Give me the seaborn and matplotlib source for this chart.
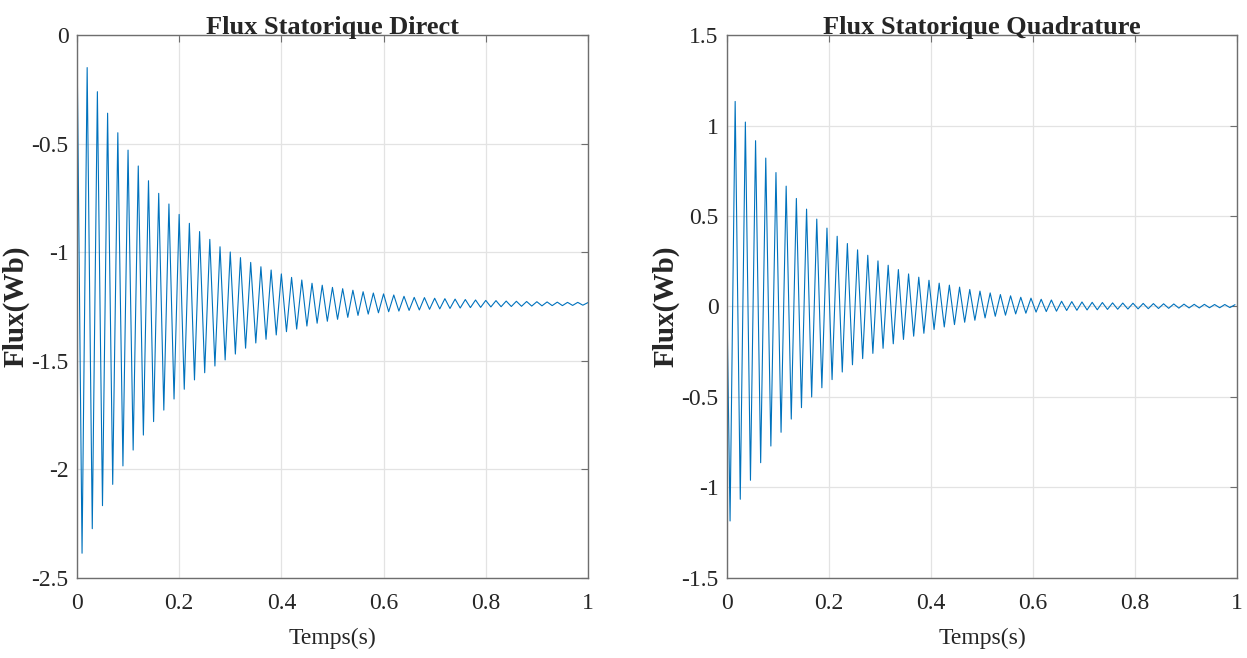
import numpy as np
import pandas as pd
import matplotlib
matplotlib.use("Agg")
import matplotlib.pyplot as plt
import seaborn as sns

# Pics (une valeur par demi-période de 0.01 s)
# Flux direct : minima à t = 0.01, 0.03, ... ; maxima à t = 0.02, 0.04, ...
d_t0 = 0.01
d_min = [-2.386, -2.273, -2.167, -2.069, -1.984, -1.911, -1.842, -1.780, -1.727, -1.676,
         -1.631, -1.588, -1.555, -1.524, -1.496, -1.469, -1.442, -1.418, -1.401, -1.381,
         -1.366, -1.354, -1.340, -1.327, -1.318, -1.309, -1.300, -1.291, -1.285, -1.279,
         -1.274, -1.271, -1.268, -1.266, -1.263, -1.261, -1.259, -1.257, -1.255, -1.254,
         -1.252, -1.251, -1.250, -1.249, -1.248, -1.247, -1.246, -1.246, -1.245, -1.244]
d_max = [-0.150, -0.261, -0.360, -0.450, -0.530, -0.603, -0.671, -0.729, -0.778, -0.826,
         -0.867, -0.905, -0.941, -0.975, -0.999, -1.025, -1.047, -1.067, -1.082, -1.100,
         -1.116, -1.128, -1.143, -1.152, -1.162, -1.168, -1.175, -1.182, -1.188, -1.192,
         -1.197, -1.203, -1.208, -1.209, -1.212, -1.214, -1.216, -1.218, -1.220, -1.222,
         -1.223, -1.225, -1.226, -1.227, -1.228, -1.229, -1.230, -1.231, -1.231, -1.232]

# Flux quadrature : minima à t = 0.006, 0.026, ... ; maxima à t = 0.016, 0.036, ...
q_t0 = 0.006
q_min = [-1.185, -1.065, -0.960, -0.863, -0.771, -0.695, -0.622, -0.559, -0.500, -0.449,
         -0.404, -0.362, -0.322, -0.288, -0.259, -0.231, -0.206, -0.182, -0.164, -0.148,
         -0.127, -0.113, -0.100, -0.087, -0.076, -0.063, -0.054, -0.048, -0.041, -0.037,
         -0.031, -0.028, -0.026, -0.022, -0.021, -0.019, -0.018, -0.016, -0.015, -0.014,
         -0.013, -0.012, -0.011, -0.010, -0.009, -0.008, -0.008, -0.007, -0.007, -0.006]
q_max = [1.133, 1.019, 0.916, 0.820, 0.740, 0.665, 0.597, 0.538, 0.483, 0.433,
         0.388, 0.348, 0.313, 0.283, 0.252, 0.228, 0.204, 0.180, 0.162, 0.145,
         0.129, 0.118, 0.107, 0.094, 0.085, 0.075, 0.066, 0.059, 0.051, 0.046,
         0.040, 0.036, 0.029, 0.027, 0.025, 0.023, 0.022, 0.020, 0.019, 0.018,
         0.017, 0.016, 0.015, 0.014, 0.013, 0.012, 0.012, 0.011, 0.011, 0.010]

half_period = 0.01
x_ticks = [0, 0.2, 0.4, 0.6, 0.8, 1]
x_ticklabels = ["0", "0.2", "0.4", "0.6", "0.8", "1"]
d_yticks = [0, -0.5, -1, -1.5, -2, -2.5]
d_yticklabels = ["0", "-0.5", "-1", "-1.5", "-2", "-2.5"]
q_yticks = [1.5, 1, 0.5, 0, -0.5, -1, -1.5]
q_yticklabels = ["1.5", "1", "0.5", "0", "-0.5", "-1", "-1.5"]


def signal(t0, mins, maxs):
    """Suite des extrema alternés, précédée du point de départ (0, 0)."""
    vals = np.empty(len(mins) + len(maxs))
    vals[0::2] = mins
    vals[1::2] = maxs
    t = t0 + half_period * np.arange(len(vals))
    return pd.DataFrame({"t": np.r_[0.0, t], "flux": np.r_[0.0, vals]})


sns.set_style("white")
plt.rcParams["font.family"] = ["Liberation Serif", "DejaVu Serif"]

fig = plt.figure(figsize=(12.47, 6.58), dpi=100)
ax1 = fig.add_axes([0.0617, 0.1216, 0.4098, 0.8252])
ax2 = fig.add_axes([0.5830, 0.1216, 0.4090, 0.8252])

panels = [
    (ax1, signal(d_t0, d_min, d_max), "Flux Statorique Direct", (-2.5, 0), d_yticks, d_yticklabels),
    (ax2, signal(q_t0, q_min, q_max), "Flux Statorique Quadrature", (-1.5, 1.5), q_yticks, q_yticklabels),
]

for ax, df, title, ylim, yt, ytl in panels:
    sns.lineplot(data=df, x="t", y="flux", ax=ax, color="#0072BD",
                 linewidth=0.8, estimator=None, sort=False)
    ax.set_xlim(0, 1)
    ax.set_ylim(*ylim)
    ax.set_xticks(x_ticks)
    ax.set_xticklabels(x_ticklabels)
    ax.set_yticks(yt)
    ax.set_yticklabels(ytl)
    ax.grid(True, color="#e3e3e3", linewidth=0.9)
    ax.set_axisbelow(True)
    for sp in ax.spines.values():
        sp.set_color("#6e6e6e")
        sp.set_linewidth(1.0)
    ax.tick_params(direction="in", length=5, width=0.8, color="#6e6e6e",
                   top=True, right=True, labelsize=17, labelcolor="#262626")
    ax.tick_params(axis="x", pad=11)
    ax.tick_params(axis="y", pad=6)
    ax.set_title(title, fontsize=19, fontweight="bold", pad=1)
    ax.set_xlabel("Temps(s)", fontsize=17, labelpad=10, color="#262626")
    ax.set_ylabel("Flux(Wb)", fontsize=21, fontweight="bold", labelpad=1, color="#262626")

fig.savefig("out.png", dpi=100)
